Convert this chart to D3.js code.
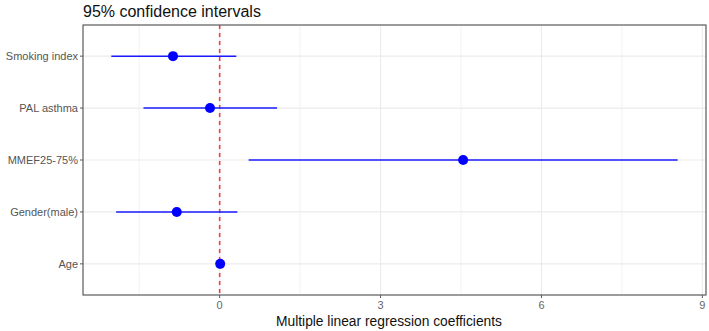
<!DOCTYPE html>
<html>
<head>
<meta charset="utf-8">
<script src="https://cdn.jsdelivr.net/npm/d3@7"></script>
<style>
  body { margin: 0; background: #fff; }
  svg text { font-family: Arial, "Liberation Sans", sans-serif; }
</style>
</head>
<body>
<svg id="chart" width="709" height="331"></svg>
<script>
// Coefficient estimates with 95% CI, top to bottom
const terms = ['Smoking index', 'PAL asthma', 'MMEF25-75%', 'Gender(male)', 'Age'];
const estimates = [-0.87, -0.18, 4.54, -0.80, 0.01];
const lowers = [-2.02, -1.42, 0.54, -1.93, 0.00];
const uppers = [0.31, 1.07, 8.54, 0.33, 0.02];
const xTicks = [0, 3, 6, 9];
const xMinor = [-1.5, 1.5, 4.5, 7.5];

const svg = d3.select('#chart');
const margin = { top: 25, right: 3, bottom: 36, left: 83 };
const W = 709, H = 331;
const iw = W - margin.left - margin.right;
const ih = H - margin.top - margin.bottom;

const rows = terms.map((t, i) => ({ term: t, est: estimates[i], lo: lowers[i], hi: uppers[i] }));

// ggplot-style 5% expansion
const lo = d3.min(lowers), hi = d3.max(uppers);
const pad = (hi - lo) * 0.05;
const x = d3.scaleLinear().domain([lo - pad, hi + pad]).range([0, iw]);

// discrete axis with 0.6 expansion
const y = d3.scaleLinear().domain([-0.6, terms.length - 1 + 0.6]).range([0, ih]);

const g = svg.append('g').attr('transform', `translate(${margin.left},${margin.top})`);

// minor grid
g.selectAll('.minor').data(xMinor).join('line')
    .attr('x1', d => x(d)).attr('x2', d => x(d))
    .attr('y1', 0).attr('y2', ih)
    .attr('stroke', '#f2f2f2').attr('stroke-width', 1);

// major grid
g.selectAll('.vmajor').data(xTicks).join('line')
    .attr('x1', d => x(d)).attr('x2', d => x(d))
    .attr('y1', 0).attr('y2', ih)
    .attr('stroke', '#ebebeb').attr('stroke-width', 1.1);

g.selectAll('.hmajor').data(terms).join('line')
    .attr('x1', 0).attr('x2', iw)
    .attr('y1', (d, i) => y(i)).attr('y2', (d, i) => y(i))
    .attr('stroke', '#ebebeb').attr('stroke-width', 1.1);

// reference line at zero
g.append('line')
    .attr('x1', x(0)).attr('x2', x(0))
    .attr('y1', 0).attr('y2', ih)
    .attr('stroke', '#e8403f').attr('stroke-width', 1.6)
    .attr('stroke-dasharray', '4,4');

// error bars
g.selectAll('.ci').data(rows).join('line')
    .attr('x1', d => x(d.lo)).attr('x2', d => x(d.hi))
    .attr('y1', (d, i) => y(i)).attr('y2', (d, i) => y(i))
    .attr('stroke', '#1a1aff').attr('stroke-width', 1.5);

// points
g.selectAll('.pt').data(rows).join('circle')
    .attr('cx', d => x(d.est))
    .attr('cy', (d, i) => y(i))
    .attr('r', 5)
    .attr('fill', '#0000ff');

// panel border
g.append('rect')
    .attr('width', iw).attr('height', ih)
    .attr('fill', 'none').attr('stroke', '#5a5a5a').attr('stroke-width', 1.2);

// x axis ticks + labels
g.selectAll('.xt').data(xTicks).join('line')
    .attr('x1', d => x(d)).attr('x2', d => x(d))
    .attr('y1', ih).attr('y2', ih + 3)
    .attr('stroke', '#5a5a5a');
g.selectAll('.xl').data(xTicks).join('text')
    .attr('x', d => x(d)).attr('y', ih + 14)
    .attr('text-anchor', 'middle')
    .attr('font-size', 11).attr('fill', '#666')
    .text(d => d);

// y axis ticks + labels
g.selectAll('.yt').data(terms).join('line')
    .attr('x1', -3).attr('x2', 0)
    .attr('y1', (d, i) => y(i)).attr('y2', (d, i) => y(i))
    .attr('stroke', '#5a5a5a');
g.selectAll('.yl').data(terms).join('text')
    .attr('x', -5).attr('y', (d, i) => y(i))
    .attr('dy', '0.35em')
    .attr('text-anchor', 'end')
    .attr('font-size', 11).attr('fill', '#555')
    .text(d => d);

// axis title
svg.append('text')
    .attr('x', 389).attr('y', H - 5)
    .attr('text-anchor', 'middle')
    .attr('font-size', 13.8).attr('fill', '#111')
    .text('Multiple linear regression coefficients');

// chart title
svg.append('text')
    .attr('x', margin.left).attr('y', 17)
    .attr('font-size', 16).attr('fill', '#111')
    .text('95% confidence intervals');
</script>
</body>
</html>
